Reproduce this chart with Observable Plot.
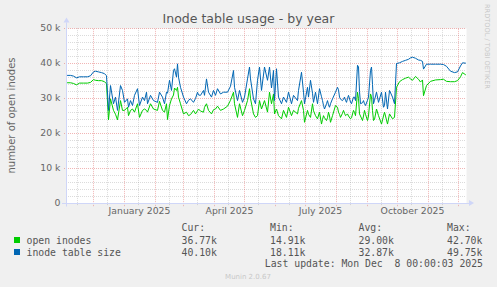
<!DOCTYPE html>
<html><head><meta charset="utf-8">
<script src="https://cdn.jsdelivr.net/npm/d3@7"></script>
<script src="https://cdn.jsdelivr.net/npm/@observablehq/plot@0.6"></script>
<style>
html,body{margin:0;padding:0;background:#f0f0f0;}
#chart{position:relative;width:497px;height:287px;overflow:hidden;background:#f0f0f0}
#chart svg{display:block}
</style></head><body><div id="chart"></div>
<script>
// ---- data (values in thousands of inodes, x = days after startDate) ----
const startDate = "2024-11-04";
const endDate = "2025-12-09";
const days = [1,4,7,10,13,17,21,24,27,29,32,35,38,40,42,44,47,49,51,54,56,58,61,62,64,66,68,71,73,76,78,80,81,84,87,91,93,96,98,100,101,103,105,107,108,110,111,112,114,117,120,122,124,127,129,131,132,134,137,138,140,142,145,147,149,151,154,157,161,164,167,168,171,173,176,178,181,183,184,187,189,191,193,195,198,201,203,205,207,208,210,212,215,217,220,222,225,227,231,232,235,237,238,241,242,244,246,247,249,251,253,255,256,257,258,260,261,262,263,264,266,269,271,272,273,274,276,277,278,279,280,281,282,284,285,287,288,289,291,292,293,294,296,297,298,299,301,302,304,305,306,307,308,310,312,315,317,318,319,321,323,326,328,330,333,336,339,342,344,346,349,352,354,356,357,360,364,369,374,377,380,384,388,391,394,396,399];
const openInodes = [34.5,34.5,34.3,33.9,34.4,34.4,34.4,34.6,35.4,35.2,35.1,35.1,34.8,34.2,23.9,29.9,26.6,25.5,23.9,29.4,26.6,26.6,27.5,25.1,26.6,27.0,26.1,28.5,24.6,26.6,27.0,26.6,26.1,28.5,27.0,26.6,29.2,26.6,26.1,28.5,24.0,28.0,29.9,31.0,33.0,32.3,33.2,30.4,28.5,25.6,26.1,25.1,25.4,26.6,25.6,26.5,27.0,26.4,26.1,27.5,28.5,26.6,25.6,26.8,27.0,27.8,26.6,27.0,27.8,29.5,31.8,28.5,24.6,28.5,25.1,26.6,29.4,32.8,30.0,25.6,24.6,25.1,29.4,27.0,29.4,26.1,31.8,28.5,31.3,25.6,27.0,25.1,24.2,26.6,24.6,27.5,25.1,26.6,25.6,27.2,29.4,26.6,23.2,26.6,25.5,24.6,28.5,26.5,25.1,24.2,26.1,22.7,24.0,25.1,24.5,23.7,24.5,26.1,25.0,23.2,25.1,28.0,27.5,26.1,25.5,24.6,25.8,26.6,25.8,25.1,25.3,25.6,25.0,24.2,24.5,26.6,26.0,25.1,31.8,30.0,25.6,25.0,23.7,25.0,26.6,25.5,23.7,25.0,31.3,30.5,26.6,23.7,24.0,27.0,25.1,22.7,25.0,26.1,25.0,22.7,25.6,24.2,24.6,33.2,34.8,35.4,35.8,36.1,35.6,35.2,36.3,35.5,34.7,35.3,30.8,33.7,34.9,35.3,35.4,35.5,34.9,34.8,34.8,35.1,36.2,37.4,36.8];
const tableSize = [36.6,36.6,36.4,35.9,36.2,36.2,36.2,36.5,37.6,37.8,37.6,37.4,37.1,36.5,26.6,33.7,28.5,30.4,26.6,33.7,32.3,28.9,29.9,27.5,29.4,28.0,30.9,32.8,28.0,30.4,29.4,31.8,28.5,30.9,29.4,28.9,31.8,30.4,28.5,31.8,31.5,35.2,32.3,38.0,38.5,36.1,39.9,36.1,33.2,30.4,28.5,29.5,29.9,28.9,30.0,31.8,31.0,30.9,32.3,30.9,35.6,31.8,30.4,32.3,30.9,32.8,31.3,31.8,31.8,33.5,38.0,33.2,29.4,32.3,28.9,30.4,35.6,39.0,35.6,29.9,28.5,35.2,39.0,32.3,39.0,35.2,39.0,33.0,38.0,29.4,38.5,30.4,28.5,30.4,28.9,31.8,28.5,30.9,29.4,32.3,37.5,31.8,28.5,33.2,30.4,35.2,31.5,28.9,31.8,28.5,32.8,30.5,29.4,28.0,27.0,28.5,29.4,28.2,27.5,28.5,29.9,31.8,33.2,32.5,30.4,29.8,29.4,29.8,30.4,29.5,28.9,30.0,30.9,29.0,28.5,30.4,30.4,29.4,39.5,39.0,32.0,28.5,28.8,29.4,28.5,28.0,29.5,30.4,38.0,39.0,34.0,28.5,29.5,31.8,28.9,31.8,27.5,28.0,31.8,27.0,32.3,30.4,28.5,40.0,40.2,40.6,40.9,41.2,41.6,41.8,41.5,41.0,40.9,40.6,38.4,39.8,39.8,39.8,39.8,39.7,39.2,37.8,37.4,37.6,39.3,40.2,40.1];
const yTicks = [0, 10, 20, 30, 40, 50];
const xLabels = ["January 2025", "April 2025", "July 2025", "October 2025"];
const xLabelDates = ["2025-01-16", "2025-04-16", "2025-07-16", "2025-10-16"];
const seriesNames = ["open inodes", "inode table size"];
const seriesColors = ["#00CC00", "#0066B3"];
const statHeaders = ["Cur:", "Min:", "Avg:", "Max:"];
const statsOpen = ["36.77k", "14.91k", "29.00k", "42.70k"];
const statsSize = ["40.10k", "18.11k", "32.87k", "49.75k"];
const titleText = "Inode table usage - by year";
const yTitle = "number of open inodes";
const lastUpdate = "Last update: Mon Dec  8 00:00:03 2025";
const footer = "Munin 2.0.67";
const sideText = "RRDTOOL / TOBI OETIKER";

// ---- build ----
const parse = d3.utcParse("%Y-%m-%d");
const t0 = parse(startDate), t1 = parse(endDate);
const data = days.map((d, i) => ({date: d3.utcDay.offset(t0, d), open: openInodes[i], size: tableSize[i]}));
const majorX = d3.utcMonth.range(t0, t1);
const minorX = d3.utcMonth.range(d3.utcMonth.floor(t0), t1).map(d => d3.utcDay.offset(d, 14)).filter(d => d > t0 && d < t1);
const majorY = yTicks.filter(v => v > 0);
const minorY = d3.range(2, 50, 2).filter(v => v % 10 !== 0);
const labelData = xLabels.map((t, i) => ({date: parse(xLabelDates[i]), text: t}));
const FONT = "DejaVu Sans, Verdana, sans-serif";
const MONO = "DejaVu Sans Mono, monospace";
const AXIS = "#CFD6F8";
const GRID = "rgba(143,143,143,0.32)";
const MGRID = "rgba(222,79,79,0.42)";

const chart = Plot.plot({
  width: 497, height: 287,
  marginLeft: 66, marginRight: 31, marginTop: 28, marginBottom: 84,
  style: {background: "transparent", fontFamily: FONT, fontSize: "9.3px", color: "#666", overflow: "visible"},
  x: {type: "utc", domain: [t0, t1], axis: null},
  y: {domain: [0, 50], axis: null},
  marks: [
    Plot.frame({fill: "#ffffff", stroke: "none"}),
    Plot.ruleY(minorY, {stroke: GRID, strokeWidth: 1, strokeDasharray: "1,1"}),
    Plot.ruleX(minorX, {y1: -0.6, y2: 50, stroke: GRID, strokeWidth: 1, strokeDasharray: "1,1"}),
    Plot.ruleY(majorY, {x1: d3.utcDay.offset(t0, -2), x2: t1, stroke: MGRID, strokeWidth: 1, strokeDasharray: "1,1"}),
    Plot.ruleX(majorX, {y1: -0.9, y2: 50, stroke: MGRID, strokeWidth: 1, strokeDasharray: "1,1"}),
    Plot.ruleY([0], {x1: d3.utcDay.offset(t0, -4), x2: d3.utcDay.offset(t1, 3), stroke: AXIS, strokeWidth: 1}),
    Plot.ruleX([t0], {y1: -1, y2: 51.6, stroke: AXIS, strokeWidth: 1}),
    Plot.line(data, {x: "date", y: "open", stroke: seriesColors[0], strokeWidth: 1}),
    Plot.line(data, {x: "date", y: "size", stroke: seriesColors[1], strokeWidth: 1}),
    Plot.text(yTicks, {y: d => d, text: d => d === 0 ? "0" : d + " k", frameAnchor: "left", textAnchor: "end", dx: -6, fill: "#666"}),
    Plot.text(labelData, {x: "date", text: "text", frameAnchor: "bottom", dy: 10, fill: "#666"})
  ]
});
document.getElementById("chart").appendChild(chart);

const svg = d3.select(chart);
const xs = chart.scale("x"), ys = chart.scale("y");
// axis arrows
const ax = xs.apply(d3.utcDay.offset(t1, 3)), ay = ys.apply(0);
svg.append("path").attr("d", `M${ax},${ay - 3}L${ax + 5},${ay}L${ax},${ay + 3}Z`).attr("fill", AXIS);
const vx = xs.apply(t0) + 0.5, vy = ys.apply(51.6);
svg.append("path").attr("d", `M${vx - 3},${vy}L${vx},${vy - 5}L${vx + 3},${vy}Z`).attr("fill", AXIS);

// title and axis title
svg.append("text").attr("x", 248.5).attr("y", 23).attr("text-anchor", "middle")
  .attr("font-family", FONT).attr("font-size", "12.5px").attr("fill", "#555").text(titleText);
svg.append("text").attr("transform", "translate(14.5,115.5) rotate(-90)").attr("text-anchor", "middle")
  .attr("font-family", FONT).attr("font-size", "10px").attr("fill", "#666").text(yTitle);
svg.append("text").attr("transform", "translate(485,4) rotate(90)").attr("text-anchor", "start")
  .attr("font-family", FONT).attr("font-size", "6.6px").attr("fill", "#c8c8c8").text(sideText);

// legend
const mono = (x, y, t, anchor = "start") => svg.append("text").attr("x", x).attr("y", y)
  .attr("text-anchor", anchor).attr("font-family", MONO).attr("font-size", "9.8px")
  .attr("fill", "#555").style("white-space", "pre").text(t);
const colX = [181.5, 270, 358.5, 447];
statHeaders.forEach((h, i) => mono(colX[i], 231, h));
[statsOpen, statsSize].forEach((vals, r) => {
  const y = 243.5 + r * 12;
  svg.append("rect").attr("x", 14).attr("y", y - 6.5).attr("width", 6).attr("height", 6).attr("fill", seriesColors[r]);
  mono(26.5, y, seriesNames[r]);
  vals.forEach((v, i) => mono(colX[i], y, v));
});
mono(483, 267.3, lastUpdate, "end");
svg.append("text").attr("x", 248).attr("y", 279).attr("text-anchor", "middle")
  .attr("font-family", FONT).attr("font-size", "7px").attr("fill", "#c8c8c8").text(footer);
</script></body></html>
